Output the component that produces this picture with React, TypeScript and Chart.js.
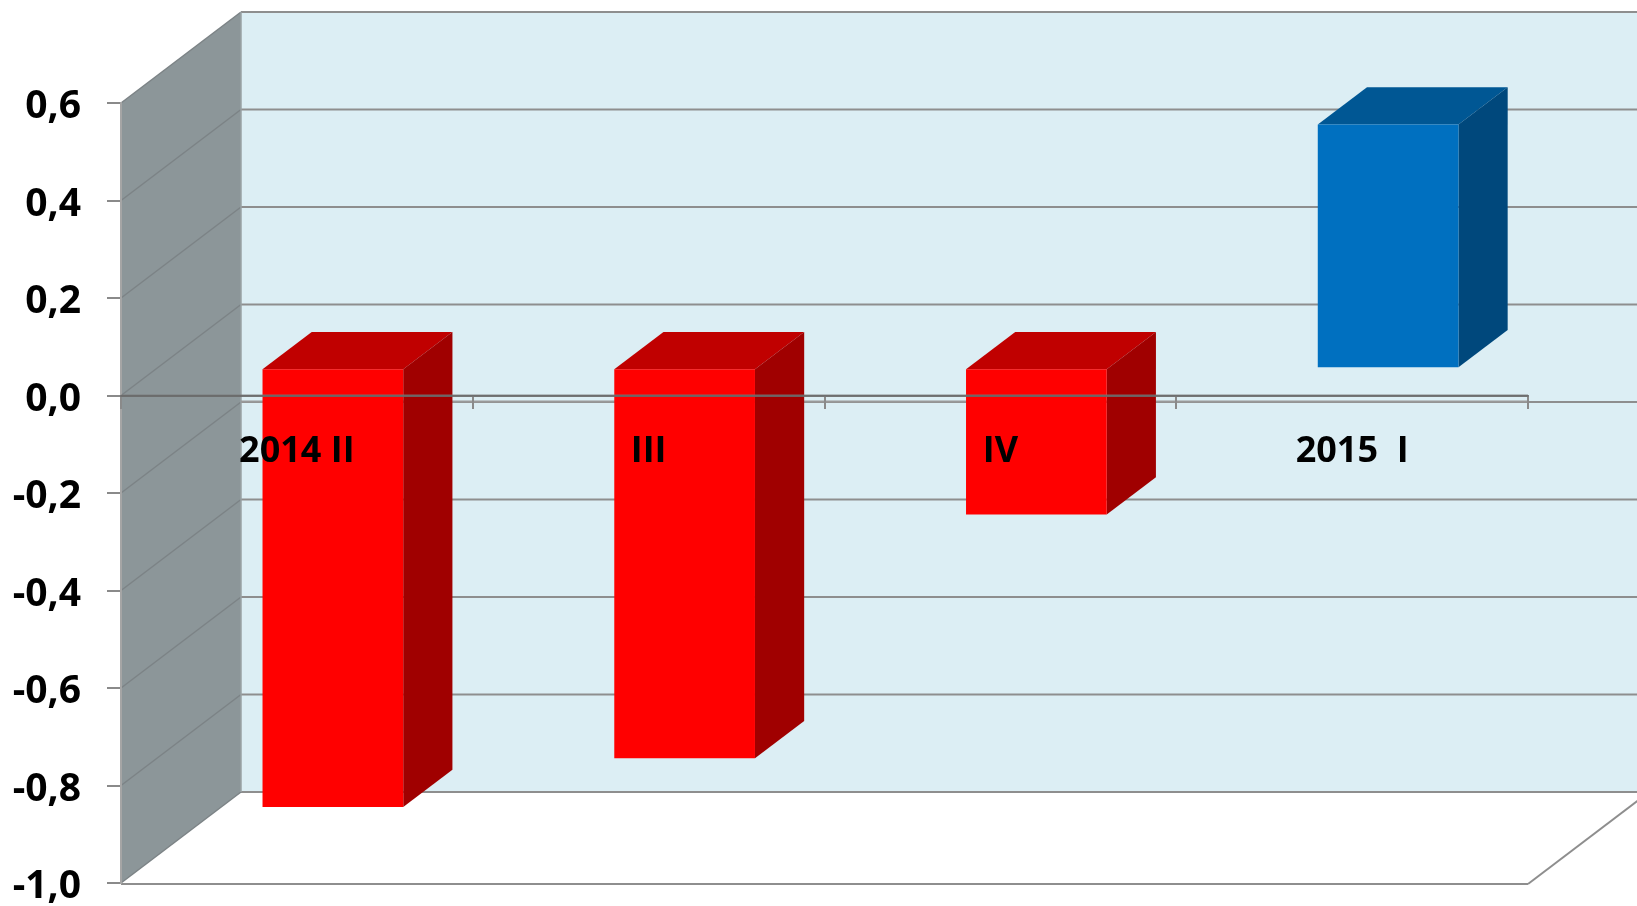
import { useEffect, useRef } from "react";
import { Chart, registerables } from "chart.js";

Chart.register(...registerables);

// ---- data ----
const categories = ["2014 II", "III", "IV", "2015  I"];
const values = [-0.9, -0.8, -0.3, 0.5];
const yMin = -1.0;
const yMax = 0.6;
const yStep = 0.2;

// ---- styling (3D look) ----
const DX = 120; // depth offset x (front plane -> back wall)
const DY = 91; // depth offset y
const BAR_D0 = 0.3; // bar front face depth fraction
const BAR_DD = 0.41; // bar depth fraction
const BACK_WALL = "#DCEEF4";
const SIDE_WALL = "#8C9699";
const GRID = "#8E8E8E";
const FONT = "'Open Sans', 'Noto Sans', sans-serif";

const barStyle = (v: number) =>
  v < 0
    ? { front: "#FF0000", top: "#C00000", side: "#A00000" }
    : { front: "#0070C0", top: "#005794", side: "#00487C" };

const poly = (ctx: CanvasRenderingContext2D, pts: number[][], fill?: string) => {
  ctx.beginPath();
  pts.forEach((p, i) => (i ? ctx.lineTo(p[0], p[1]) : ctx.moveTo(p[0], p[1])));
  ctx.closePath();
  if (fill) {
    ctx.fillStyle = fill;
    ctx.fill();
  }
};

const line = (ctx: CanvasRenderingContext2D, x1: number, y1: number, x2: number, y2: number, color: string, lw: number) => {
  ctx.beginPath();
  ctx.moveTo(x1, y1);
  ctx.lineTo(x2, y2);
  ctx.strokeStyle = color;
  ctx.lineWidth = lw;
  ctx.stroke();
};

const walls3d = {
  id: "walls3d",
  beforeDraw(chart: any) {
    const { ctx, chartArea: a } = chart;
    const y = chart.scales.y;
    ctx.save();
    ctx.fillStyle = "#FFFFFF";
    ctx.fillRect(0, 0, chart.width, chart.height);
    // back wall
    ctx.fillStyle = BACK_WALL;
    ctx.fillRect(a.left + DX, a.top - DY, a.right - a.left + 10, a.bottom - a.top);
    // left wall
    poly(ctx, [
      [a.left, a.top],
      [a.left + DX, a.top - DY],
      [a.left + DX, a.bottom - DY],
      [a.left, a.bottom],
    ], SIDE_WALL);
    // gridlines on back wall and left wall
    y.ticks.forEach((t: any) => {
      const py = y.getPixelForValue(t.value);
      line(ctx, a.left + DX, py - DY, a.right + DX + 10, py - DY, GRID, 2);
      line(ctx, a.left, py, a.left + DX, py - DY, "#7C8386", 1.5);
    });
    // back wall left edge
    line(ctx, a.left + DX, a.top - DY, a.left + DX, a.bottom - DY, "#9AA2A5", 1.5);
    // floor edges
    line(ctx, a.left, a.bottom + 1, a.right, a.bottom + 1, GRID, 2);
    line(ctx, a.right, a.bottom + 1, a.right + DX, a.bottom + 1 - DY, GRID, 2);
    // category axis line behind bars
    const p0 = y.getPixelForValue(0);
    line(ctx, a.left + DX, p0 + 6, a.right, p0 + 6, "#9A9A9A", 2);
    ctx.restore();
  },
  beforeDatasetDraw() {
    return false;
  },
  afterDatasetsDraw(chart: any) {
    const { ctx, chartArea: a } = chart;
    const meta = chart.getDatasetMeta(0);
    ctx.save();
    meta.data.forEach((el: any, i: number) => {
      const { x, y, base, width } = el.getProps(["x", "y", "base", "width"], true);
      const st = barStyle(values[i]);
      const ox = BAR_D0 * DX;
      const oy = -BAR_D0 * DY;
      const l = x - width / 2 + ox;
      const r = x + width / 2 + ox;
      const t = Math.min(y, base) + oy;
      const b = Math.max(y, base) + oy;
      const dx = BAR_DD * DX;
      const dy = BAR_DD * DY;
      poly(ctx, [[l, t], [r, t], [r + dx, t - dy], [l + dx, t - dy]], st.top);
      poly(ctx, [[r, t], [r + dx, t - dy], [r + dx, b - dy], [r, b]], st.side);
      poly(ctx, [[l, t], [r, t], [r, b], [l, b]], st.front);
    });
    // zero line seen through the bars
    const p0 = chart.scales.y.getPixelForValue(0);
    line(ctx, a.left, p0, a.right, p0, "rgba(120,120,120,0.8)", 2);
    ctx.restore();
  },
};

export default function App() {
  const ref = useRef<HTMLCanvasElement>(null);
  useEffect(() => {
    if (!ref.current) return;
    const chart = new Chart(ref.current, {
      type: "bar",
      data: {
        labels: categories,
        datasets: [
          {
            data: values,
            backgroundColor: values.map((v) => barStyle(v).front),
            barPercentage: 0.4,
            categoryPercentage: 1,
          },
        ],
      },
      options: {
        animation: false,
        responsive: false,
        layout: { padding: { top: 103, right: 109, bottom: 23, left: 0 } },
        plugins: { legend: { display: false }, tooltip: { enabled: false } },
        scales: {
          x: {
            position: { y: 0 } as any,
            afterFit: (scale: any) => {
              scale.height = 0;
              scale.paddingLeft = 0;
              scale.paddingRight = 0;
            },
            grid: {
              drawOnChartArea: false,
              drawTicks: true,
              tickLength: 12,
              color: "#8A8A8A",
              lineWidth: 2,
              offset: true,
              z: 1,
            },
            border: { display: true, color: "rgba(105,105,105,0.85)", width: 2, z: 1 },
            ticks: {
              z: 1,
              color: "#000000",
              padding: 23,
              font: { family: FONT, size: 36, weight: "bold" },
            },
          },
          y: {
            min: yMin,
            max: yMax,
            afterFit: (scale: any) => {
              scale.width = 121;
              scale.paddingTop = 0;
              scale.paddingBottom = 0;
            },
            grid: {
              drawOnChartArea: false,
              drawTicks: true,
              tickLength: 14,
              color: "#8A8A8A",
              lineWidth: 2,
            },
            border: { display: true, color: "#A5A5A5", width: 2 },
            ticks: {
              stepSize: yStep,
              padding: 26,
              labelOffset: 4,
              color: "#000000",
              font: { family: FONT, size: 39, weight: "bold" },
              callback: (v: any) => Number(v).toFixed(1).replace(".", ","),
            },
          },
        },
      },
      plugins: [walls3d],
    });
    return () => chart.destroy();
  }, []);
  return (
    <div style={{ position: "fixed", left: 0, top: 0, width: 1637, height: 906, background: "#fff" }}>
      <canvas ref={ref} width={1637} height={906} style={{ display: "block" }} />
    </div>
  );
}
